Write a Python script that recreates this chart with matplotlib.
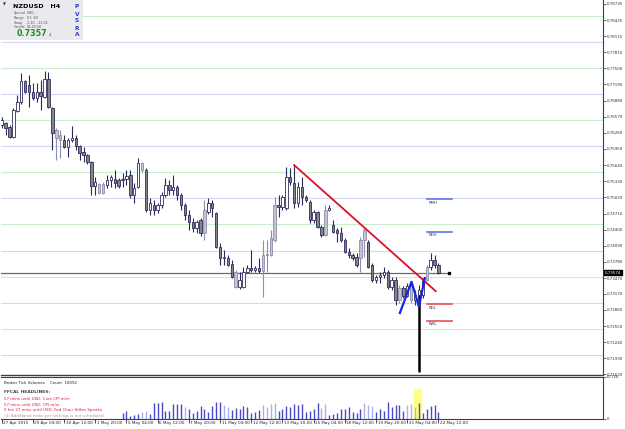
import matplotlib.pyplot as plt
import numpy as np
from matplotlib.patches import Rectangle
from matplotlib.transforms import Affine2D

# NZDUSD H4, 27 Apr 2015 20:00 .. 22 May 2015 12:00 (113 bars)
opens = [0.7641, 0.7645, 0.7637, 0.7618, 0.7668, 0.7685, 0.7725, 0.7718, 0.7704, 0.7693,
         0.7704, 0.7695, 0.7729, 0.7674, 0.7631, 0.7612, 0.7612, 0.7599, 0.7612, 0.7616,
         0.7601, 0.7589, 0.7583, 0.7570, 0.7524, 0.7528, 0.7510, 0.7526, 0.7535, 0.7537,
         0.7535, 0.7535, 0.7537, 0.7545, 0.7507, 0.7522, 0.7568, 0.7555, 0.7478, 0.7487,
         0.7478, 0.7487, 0.7507, 0.7526, 0.7516, 0.7522, 0.7507, 0.7487, 0.7468, 0.7455,
         0.7443, 0.7459, 0.7434, 0.7474, 0.7491, 0.7472, 0.7407, 0.7386, 0.7386, 0.7374,
         0.7359, 0.7330, 0.7330, 0.7359, 0.7366, 0.7363, 0.7366, 0.7361, 0.7391, 0.7391,
         0.7420, 0.7487, 0.7484, 0.7482, 0.7541, 0.7530, 0.7491, 0.7522, 0.7503, 0.7493,
         0.7459, 0.7474, 0.7445, 0.7430, 0.7478, 0.7449, 0.7439, 0.7434, 0.7420, 0.7397,
         0.7391, 0.7388, 0.7386, 0.7420, 0.7416, 0.7372, 0.7343, 0.7349, 0.7353, 0.7359,
         0.7330, 0.7343, 0.7305, 0.7328, 0.7313, 0.7332, 0.7305, 0.7315, 0.7315, 0.7343,
         0.7368, 0.7382, 0.7372]
highs = [0.7656, 0.7647, 0.7641, 0.7674, 0.7699, 0.7741, 0.7727, 0.7737, 0.7722, 0.7722,
         0.7727, 0.7745, 0.7743, 0.7676, 0.7635, 0.7631, 0.7622, 0.7616, 0.7639, 0.7622,
         0.7603, 0.7599, 0.7585, 0.7572, 0.7541, 0.7530, 0.7532, 0.7545, 0.7545, 0.7555,
         0.7539, 0.7549, 0.7555, 0.7555, 0.7530, 0.7578, 0.7570, 0.7558, 0.7501, 0.7497,
         0.7491, 0.7512, 0.7539, 0.7535, 0.7545, 0.7526, 0.7510, 0.7491, 0.7478, 0.7462,
         0.7459, 0.7462, 0.7497, 0.7501, 0.7497, 0.7474, 0.7414, 0.7401, 0.7391, 0.7382,
         0.7363, 0.7359, 0.7368, 0.7372, 0.7401, 0.7370, 0.7386, 0.7420, 0.7420, 0.7439,
         0.7503, 0.7507, 0.7507, 0.7560, 0.7558, 0.7564, 0.7532, 0.7541, 0.7507, 0.7497,
         0.7478, 0.7476, 0.7449, 0.7487, 0.7487, 0.7459, 0.7443, 0.7445, 0.7424, 0.7405,
         0.7395, 0.7395, 0.7426, 0.7443, 0.7420, 0.7376, 0.7353, 0.7359, 0.7368, 0.7363,
         0.7349, 0.7349, 0.7334, 0.7332, 0.7338, 0.7336, 0.7324, 0.7334, 0.7347, 0.7372,
         0.7395, 0.7391, 0.7376]
lows = [0.7635, 0.7622, 0.7616, 0.7616, 0.7666, 0.7681, 0.7702, 0.7676, 0.7689, 0.7685,
        0.7670, 0.7693, 0.7674, 0.7593, 0.7574, 0.7578, 0.7597, 0.7580, 0.7608, 0.7593,
        0.7574, 0.7570, 0.7566, 0.7507, 0.7507, 0.7509, 0.7509, 0.7520, 0.7522, 0.7520,
        0.7520, 0.7522, 0.7526, 0.7501, 0.7491, 0.7520, 0.7551, 0.7474, 0.7468, 0.7468,
        0.7472, 0.7482, 0.7503, 0.7507, 0.7507, 0.7497, 0.7478, 0.7459, 0.7439, 0.7436,
        0.7434, 0.7428, 0.7420, 0.7470, 0.7464, 0.7405, 0.7372, 0.7372, 0.7370, 0.7347,
        0.7328, 0.7326, 0.7328, 0.7357, 0.7359, 0.7359, 0.7357, 0.7311, 0.7359, 0.7389,
        0.7416, 0.7464, 0.7478, 0.7478, 0.7526, 0.7482, 0.7484, 0.7487, 0.7493, 0.7453,
        0.7453, 0.7443, 0.7426, 0.7428, 0.7476, 0.7434, 0.7416, 0.7416, 0.7395, 0.7386,
        0.7382, 0.7368, 0.7359, 0.7388, 0.7366, 0.7340, 0.7338, 0.7338, 0.7347, 0.7326,
        0.7324, 0.7295, 0.7299, 0.7309, 0.7311, 0.7299, 0.7295, 0.7167, 0.7309, 0.7341,
        0.7363, 0.7366, 0.7355]
closes = [0.7651, 0.7635, 0.7618, 0.7670, 0.7685, 0.7725, 0.7704, 0.7704, 0.7693, 0.7704,
          0.7697, 0.7729, 0.7676, 0.7626, 0.7616, 0.7622, 0.7599, 0.7612, 0.7616, 0.7601,
          0.7587, 0.7583, 0.7570, 0.7524, 0.7532, 0.7510, 0.7528, 0.7535, 0.7541, 0.7530,
          0.7524, 0.7537, 0.7543, 0.7507, 0.7520, 0.7568, 0.7555, 0.7478, 0.7491, 0.7478,
          0.7487, 0.7507, 0.7526, 0.7516, 0.7522, 0.7507, 0.7487, 0.7468, 0.7455, 0.7443,
          0.7455, 0.7434, 0.7478, 0.7491, 0.7482, 0.7407, 0.7386, 0.7388, 0.7372, 0.7349,
          0.7330, 0.7343, 0.7359, 0.7366, 0.7363, 0.7366, 0.7361, 0.7391, 0.7393, 0.7424,
          0.7487, 0.7484, 0.7503, 0.7541, 0.7532, 0.7491, 0.7522, 0.7503, 0.7497, 0.7459,
          0.7474, 0.7445, 0.7430, 0.7478, 0.7482, 0.7436, 0.7434, 0.7420, 0.7397, 0.7391,
          0.7386, 0.7372, 0.7420, 0.7439, 0.7368, 0.7343, 0.7349, 0.7353, 0.7359, 0.7330,
          0.7343, 0.7305, 0.7328, 0.7313, 0.7332, 0.7305, 0.7315, 0.7324, 0.7343, 0.7368,
          0.7382, 0.7372, 0.7357]
light_candles = [14, 15, 25, 26, 36, 52, 60, 67, 68, 69, 70, 83, 92, 93, 102, 105, 109]

# broker tick volume, drawn from bar 31 onwards
vol_start = 31
volumes = [9600, 13300, 4800, 6400, 8000, 10700, 13300, 8000, 25600, 25600,
           27200, 13300, 12300, 24000, 24500, 24500, 19200, 16000, 9600, 12800,
           20800, 16000, 11200, 20800, 27200, 27200, 22400, 19200, 14400, 17600,
           16000, 20800, 19200, 9600, 11200, 14400, 22400, 19200, 24000, 25600,
           12800, 16000, 20800, 19200, 24000, 22400,
           24000, 10700, 12300, 16000, 25600, 17600, 24000, 5900, 8000, 9600,
           16000, 16500, 19200, 10700, 9600, 16500, 25600, 21900, 21300, 10700,
           16000, 13300, 27700, 18700, 22900, 22900, 12300, 21900, 24500, 19200,
           25600, 9600, 16000, 20300, 21900, 10700]
light_volumes = [36, 37, 47, 57, 58, 67, 68, 69, 70, 82, 83, 93, 94, 95, 104, 105, 106]
vol_max = 67726

x_labels = ['27 Apr 2015', '29 Apr 04:00', '30 Apr 12:00', '1 May 20:00', '5 May 04:00',
            '6 May 12:00', '7 May 20:00', '11 May 04:00', '12 May 12:00', '13 May 20:00',
            '15 May 04:00', '18 May 12:00', '19 May 20:00', '21 May 04:00', '22 May 12:00']
x_label_bars = list(range(0, 113, 8))

y_ticks = [0.78735, 0.78425, 0.78115, 0.77810, 0.77500, 0.77190, 0.76880, 0.76570,
           0.76260, 0.75950, 0.75640, 0.75330, 0.75020, 0.74710, 0.74400, 0.74090,
           0.73780, 0.73470, 0.73170, 0.72860, 0.72550, 0.72240, 0.71930, 0.71620]
green_levels = [0.785, 0.775, 0.765, 0.755, 0.745, 0.735, 0.725, 0.715]
blue_levels = [0.780, 0.770, 0.760, 0.750, 0.740, 0.730, 0.720]
bid = 0.73574

trend_bars = [75, 111.3]
trend_prices = [0.7564, 0.7322]
zig_bars = [102.1, 105.1, 107.0, 108.5]
zig_prices = [0.7280, 0.7340, 0.7292, 0.7347]

level_names = ['RMH', 'RDH', 'RDL', 'RWL']
level_prices = [0.7499, 0.7436, 0.7297, 0.7265]
level_colors = ['#5a78e6', '#5a78e6', '#e85050', '#e85050']

news = ['57 mins until USD: Core CPI m/m',
        '57 mins until USD: CPI m/m',
        '5 hrs 27 mins until USD: Fed Chair Yellen Speaks']

W, H = 625, 429
fig = plt.figure(figsize=(W / 100, H / 100), dpi=100)
px = Affine2D().scale(1 / W, -1 / H).translate(0, 1) + fig.transFigure


def box(x0, y0, x1, y1):
    return [x0 / W, 1 - y1 / H, (x1 - x0) / W, (y1 - y0) / H]


ax = fig.add_axes(box(1, 0, 603, 375))
vax = fig.add_axes(box(1, 377, 603, 419))
xlim = (-0.18, 154.2)
ax.set_xlim(*xlim)
ax.set_ylim(0.7161, 0.7881)
vax.set_xlim(*xlim)
vax.set_ylim(0, vol_max)

for lv in green_levels:
    ax.axhline(lv, color='#cdeccd', lw=0.8, zorder=1)
for lv in blue_levels:
    ax.axhline(lv, color='#d6d6f5', lw=0.8, zorder=1)

# candles
bw = 0.62
for i in range(len(opens)):
    o, h, l, c = opens[i], highs[i], lows[i], closes[i]
    if i in light_candles:
        ec, fc = '#8e8eae', '#c4c4d0'
    elif c >= o:
        ec, fc = '#2c2c5c', 'white'
    else:
        ec, fc = '#2c2c5c', '#858585'
    if i == 107:
        ax.vlines(i, min(o, c), h, color=ec, lw=0.8, zorder=3)
        ax.vlines(i, l, min(o, c), color='black', lw=1.8, zorder=5)
    else:
        ax.vlines(i, l, h, color=ec, lw=0.8, zorder=3)
    ax.add_patch(Rectangle((i - bw / 2, min(o, c)), bw, max(abs(c - o), 0.00006),
                           facecolor=fc, edgecolor=ec, lw=0.6, zorder=4))

ax.plot(trend_bars, trend_prices, color='#e0102a', lw=1.3, zorder=6)
ax.plot(zig_bars, zig_prices, color='#1626e6', lw=1.6, zorder=6)

for name, p, col in zip(level_names, level_prices, level_colors):
    ax.plot([109.1, 115.5], [p, p], color=col, lw=1.2, zorder=5)
    ax.text(109.4, p - 0.0003, name, fontsize=2.8, color='#3a3a5a', va='top', ha='left')

# bid line
ax.plot([xlim[0], 114.3], [bid, bid], color='#6a6a6a', lw=0.9, zorder=2)
ax.plot([114.6], [bid], marker='s', ms=1.6, color='black', zorder=6)

ax.yaxis.tick_right()
ax.set_yticks(y_ticks)
ax.set_yticklabels(['%.5f' % v for v in y_ticks])
ax.tick_params(axis='y', labelsize=2.9, length=2, width=0.5, pad=1, colors='#333333')
ax.set_xticks([])
for s in ['top', 'left']:
    ax.spines[s].set_visible(False)
ax.spines['right'].set_color('#404040')
ax.spines['bottom'].set_color('#404040')
ax.spines['bottom'].set_linewidth(1.0)

ax.text(1.003, bid, '0.73574', transform=ax.get_yaxis_transform(),
        fontsize=2.9, color='white', va='center', ha='left',
        bbox=dict(boxstyle='square,pad=0.15', fc='black', ec='black'))

# volume panel
vax.axvspan(105.7, 107.6, ymin=0, ymax=0.71, color='#ffff80', zorder=1)
for k, v in enumerate(volumes):
    i = vol_start + k
    col = '#b0b0e6' if i in light_volumes else '#4a4ac8'
    vax.vlines(i, 0, v, color=col, lw=1.0, zorder=2)
vax.yaxis.tick_right()
vax.set_yticks([0, vol_max])
vax.set_yticklabels(['0', str(vol_max)])
vax.tick_params(axis='y', labelsize=2.9, length=2, width=0.5, pad=1, colors='#333333')
vax.set_xticks(x_label_bars)
vax.set_xticklabels([])
vax.tick_params(axis='x', length=3, width=0.6, colors='#333333')
vax.spines['left'].set_visible(False)
for s in ['top', 'right', 'bottom']:
    vax.spines[s].set_color('#404040')
for b, lab in zip(x_label_bars, x_labels):
    vax.text(b + 0.4, -0.05, lab, transform=vax.get_xaxis_transform(), fontsize=3.0,
             color='#222222', ha='left', va='top')

fig.text(4, 383, 'Broker Tick Volumes    Count  18092', transform=px, fontsize=2.9,
         color='#222222', va='center')
fig.text(4, 392, 'FFCAL HEADLINES:', transform=px, fontsize=3.2, color='#444444',
         va='center', fontweight='bold')
for k, line in enumerate(news):
    fig.text(4, 399 + k * 5.5, line, transform=px, fontsize=2.9, color='#e0143c', va='center')
fig.text(4, 415.5, '(4) Additional news per settings is not scheduled', transform=px,
         fontsize=2.9, color='#999999', va='center')

# info box
fig.patches.append(Rectangle((0, 0), 83, 40, transform=px, facecolor='#e9e9ee',
                             edgecolor='none', zorder=10))
fig.text(3, 5, '\u25bc', transform=px, fontsize=2.6, color='#222222', va='center', zorder=11)
fig.text(13, 6, 'NZDUSD   H4', transform=px, fontsize=4.6, fontweight='bold', color='black',
         va='center', zorder=11)
info = [('Spread', '0.80'), ('Range', '67, 60'), ('Swap', '2.10, -11.05'), ('Candle', '01:28:50')]
for k, (a, b) in enumerate(info):
    fig.text(14, 13 + k * 4.8, a, transform=px, fontsize=2.4, color='#555555', va='center', zorder=11)
    fig.text(27, 13 + k * 4.8, b, transform=px, fontsize=2.4, color='#555555', va='center', zorder=11)
fig.text(17, 34, '0.7357', transform=px, fontsize=5.8, fontweight='bold', color='#1e8c1e',
         va='center', zorder=11)
fig.text(49, 35, '4', transform=px, fontsize=3.0, color='#1e8c1e', va='center', zorder=11)
for k, ch in enumerate('PVSRA'):
    fig.text(77, 7 + k * 7, ch, transform=px, fontsize=4.2, fontweight='bold', color='#2d3cc8',
             va='center', ha='center', zorder=11)

fig.savefig('out.png', dpi=100)
